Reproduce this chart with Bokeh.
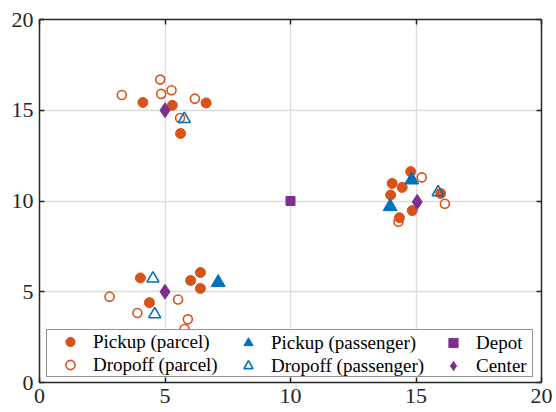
from bokeh.plotting import figure
from bokeh.models import LinearAxis, Range1d, Legend, LegendItem, FixedTicker
from bokeh.embed import file_html
from bokeh.resources import INLINE

# Data
pickup_parcel_x = [4.12, 5.29, 6.64, 5.62, 14.79, 14.05, 14.45, 13.99, 15.98, 14.85, 14.34, 4.02, 6.02, 6.41, 6.41, 4.38]
pickup_parcel_y = [15.43, 15.27, 15.40, 13.72, 11.62, 10.97, 10.75, 10.33, 10.42, 9.47, 9.08, 5.76, 5.62, 6.06, 5.18, 4.40]
dropoff_parcel_x = [3.28, 4.81, 4.85, 5.26, 6.19, 5.60, 15.23, 16.15, 14.30, 2.79, 5.52, 3.90, 5.91, 5.78]
dropoff_parcel_y = [15.84, 16.69, 15.90, 16.10, 15.64, 14.57, 11.30, 9.85, 8.86, 4.73, 4.57, 3.83, 3.48, 2.95]
pickup_pass_x = [14.83, 13.97, 7.12]
pickup_pass_y = [11.16, 9.69, 5.51]
dropoff_pass_x = [5.77, 15.88, 4.52, 4.59]
dropoff_pass_y = [14.52, 10.48, 5.73, 3.76]
depot_x = [10]
depot_y = [10]
center_x = [5, 15.05, 5]
center_y = [15, 9.95, 5]
ticks = [0, 5, 10, 15, 20]

ORANGE = "#D95319"
BLUE = "#0072BD"
PURPLE = "#7E2F8E"
FONT = "'Liberation Serif', 'Times New Roman', serif"
AXC = "#262626"

p = figure(width=553, height=408, output_backend="svg", toolbar_location=None,
           x_range=Range1d(0, 20), y_range=Range1d(0, 20),
           min_border_left=39, min_border_top=19, min_border_right=12, min_border_bottom=26)
p.outline_line_color = None
p.background_fill_color = "white"

for ax in [p.xaxis[0], p.yaxis[0]]:
    ax.ticker = FixedTicker(ticks=ticks)
    ax.major_tick_in = 5
    ax.major_tick_out = 0
    ax.minor_tick_line_color = None
    ax.axis_line_color = AXC
    ax.axis_line_width = 1.5
    ax.major_tick_line_color = AXC
    ax.major_tick_line_width = 1.5
    ax.major_label_text_font = FONT
    ax.major_label_text_font_size = "22px"
    ax.major_label_text_color = AXC
p.xaxis.major_label_standoff = 6
p.yaxis.major_label_standoff = 6

for loc in ["above", "right"]:
    a = LinearAxis(ticker=FixedTicker(ticks=ticks))
    a.major_tick_in = 5
    a.major_tick_out = 0
    a.minor_tick_line_color = None
    a.axis_line_color = AXC
    a.axis_line_width = 1.5
    a.major_tick_line_color = AXC
    a.major_tick_line_width = 1.5
    a.major_label_overrides = {t: "" for t in ticks}
    a.major_label_standoff = 0
    p.add_layout(a, loc)

p.grid.ticker = FixedTicker(ticks=ticks)
p.grid.grid_line_color = "#DCDCDC"
p.grid.grid_line_width = 1.3

r1 = p.scatter(pickup_parcel_x, pickup_parcel_y, marker="circle", size=10,
               fill_color=ORANGE, line_color=ORANGE)
r2 = p.scatter(dropoff_parcel_x, dropoff_parcel_y, marker="circle", size=9,
               fill_color=None, line_color=ORANGE, line_width=1.6)
r3 = p.scatter(pickup_pass_x, pickup_pass_y, marker="triangle", size=14,
               fill_color=BLUE, line_color=BLUE)
r4 = p.scatter(dropoff_pass_x, dropoff_pass_y, marker="triangle", size=12,
               fill_color=None, line_color=BLUE, line_width=1.6)
r5 = p.scatter(depot_x, depot_y, marker="square", size=9,
               fill_color=PURPLE, line_color=PURPLE)
r6 = p.scatter(center_x, center_y, marker="diamond", size=15,
               fill_color=PURPLE, line_color=PURPLE)

def make_legend(items, loc, outer):
    lg = Legend(items=items, orientation="vertical", location=loc)
    lg.label_text_font = FONT
    lg.label_text_font_size = "19px"
    lg.label_text_color = "black"
    if outer:
        lg.border_line_color = AXC
        lg.border_line_width = 1.5
        lg.background_fill_color = "white"
        lg.background_fill_alpha = 1
        lg.label_width = 439
    else:
        lg.border_line_color = None
        lg.background_fill_alpha = 0
    lg.padding = 0
    lg.spacing = 0
    lg.label_standoff = 0
    lg.glyph_width = 46
    lg.glyph_height = 23
    lg.label_height = 23
    lg.margin = 0
    return lg

leg1 = make_legend([LegendItem(label="Pickup (parcel)", renderers=[r1]),
                    LegendItem(label="Dropoff (parcel)", renderers=[r2])], (7, 5), True)
leg2 = make_legend([LegendItem(label="Pickup (passenger)", renderers=[r3]),
                    LegendItem(label="Dropoff (passenger)", renderers=[r4])], (186, 5), False)
leg3 = make_legend([LegendItem(label="Depot", renderers=[r5]),
                    LegendItem(label="Center", renderers=[r6])], (391, 5), False)
for lg in (leg1, leg2, leg3):
    p.add_layout(lg, "center")

open("out.html", "w").write(file_html(p, INLINE))
